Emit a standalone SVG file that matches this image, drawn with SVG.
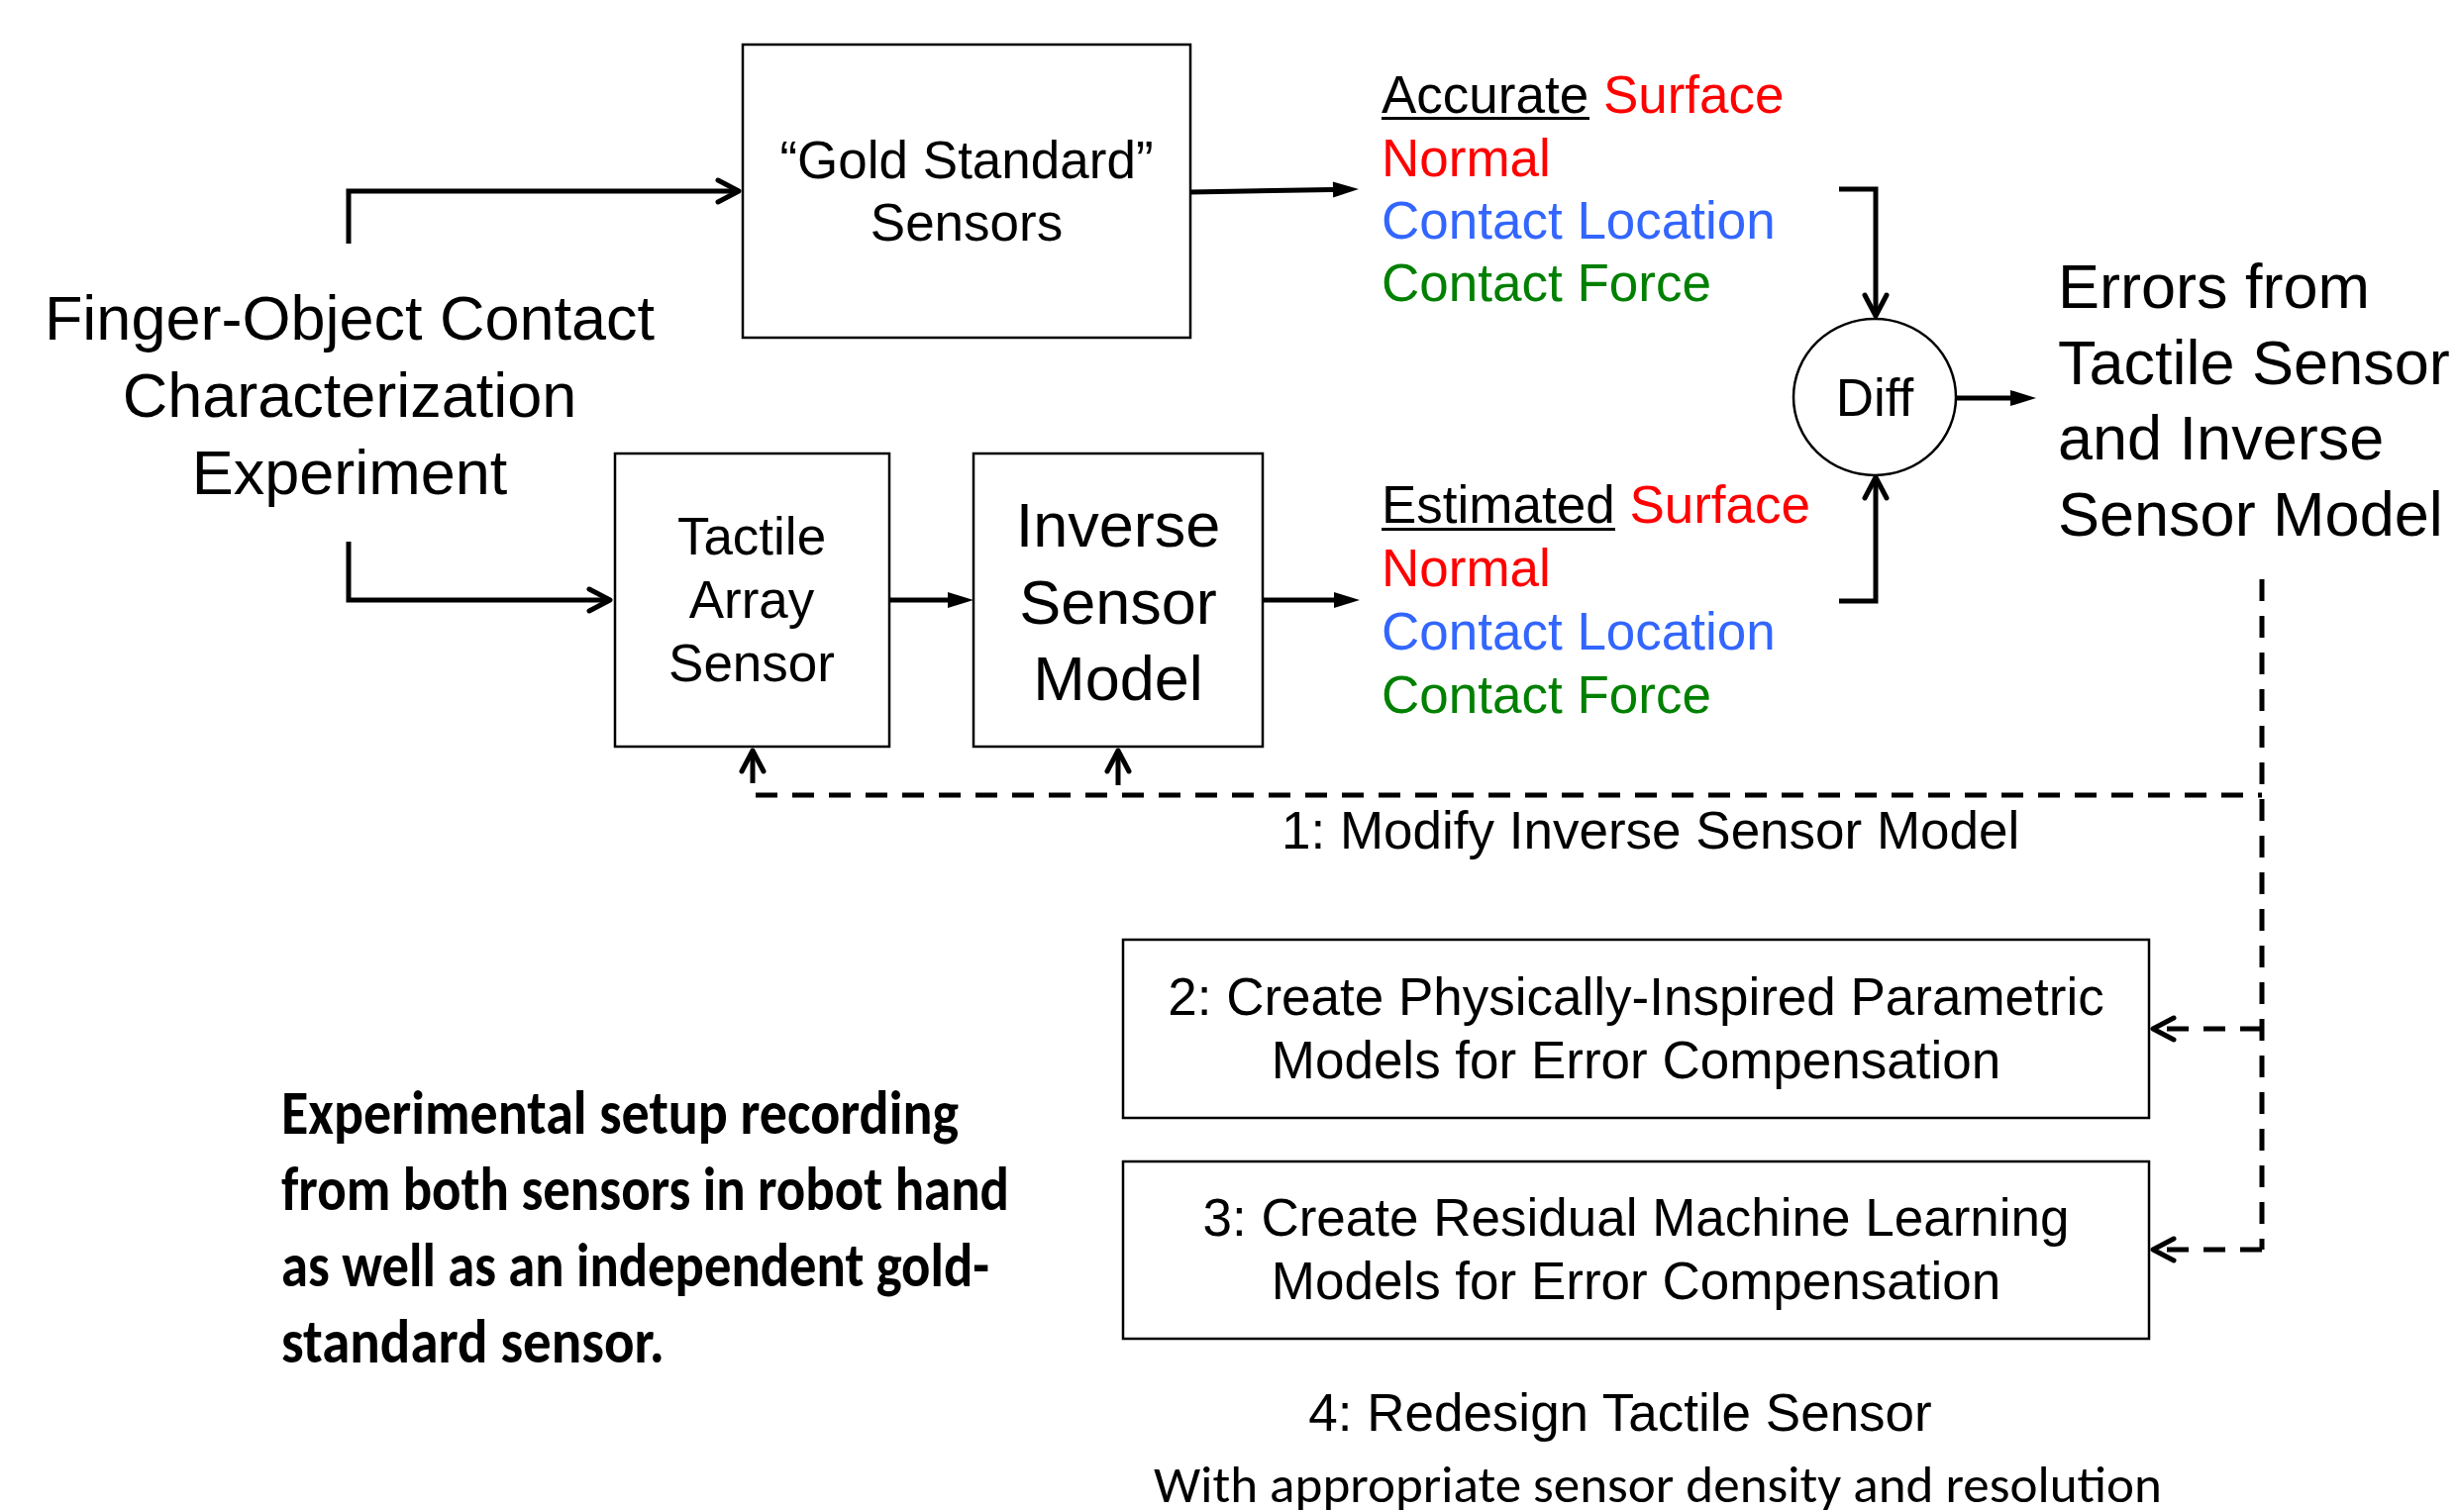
<svg xmlns="http://www.w3.org/2000/svg" width="2483" height="1527" viewBox="0 0 2483 1527">
<style>
.box{fill:#fff;stroke:#000;stroke-width:2.5}
.t{font-family:"Liberation Sans",Arial,sans-serif;fill:#000}
.s53{font-size:53px}
.s63{font-size:63px}
.red{fill:#FF0000}
.blue{fill:#3366FF}
.green{fill:#008000}
.ln{fill:none;stroke:#000;stroke-width:5}
.dash{fill:none;stroke:#000;stroke-width:5;stroke-dasharray:22 15}
.cal{font-family:Carlito,Calibri,Lato,"Open Sans",sans-serif;fill:#000}
</style>
<defs>
<marker id="chev" markerUnits="userSpaceOnUse" markerWidth="40" markerHeight="40" refX="25" refY="20" orient="auto" overflow="visible">
<path d="M4,9 L25,20 L4,31" fill="none" stroke="#000" stroke-width="5" stroke-linecap="round" stroke-linejoin="round"/>
</marker>
<marker id="tri" markerUnits="userSpaceOnUse" markerWidth="30" markerHeight="20" refX="0" refY="10" orient="auto" overflow="visible">
<path d="M0,2 L26,10 L0,18 Z" fill="#000"/>
</marker>
</defs>
<rect width="2483" height="1527" fill="#fff"/>

<g id="connectors">
<path class="ln" d="M352,246 V193 H746" marker-end="url(#chev)"/>
<path class="ln" d="M352,547 V606 H616" marker-end="url(#chev)"/>
<path class="ln" d="M1202,194 L1346,191.5" marker-end="url(#tri)"/>
<path class="ln" d="M898,606 H957" marker-end="url(#tri)"/>
<path class="ln" d="M1275,606 H1347" marker-end="url(#tri)"/>
<path class="ln" d="M1857,191 H1894 V319" marker-end="url(#chev)"/>
<path class="ln" d="M1857,607 H1894 V482" marker-end="url(#chev)"/>
<path class="ln" d="M1975,402 H2030" marker-end="url(#tri)"/>
<path class="dash" d="M2284,585 V1262"/>
<path class="dash" d="M763,803 H2284"/>
<path class="dash" d="M2284,1039 H2174" marker-end="url(#chev)"/>
<path class="dash" d="M2284,1262 H2174" marker-end="url(#chev)"/>
<path class="ln" d="M760,791 V758" marker-end="url(#chev)"/>
<path class="ln" d="M1129,793 V758" marker-end="url(#chev)"/>
</g>

<g id="experiment">
<text class="t s63" text-anchor="middle" x="353" y="343">Finger-Object Contact</text>
<text class="t s63" text-anchor="middle" x="353" y="421">Characterization</text>
<text class="t s63" text-anchor="middle" x="353" y="499">Experiment</text>
</g>

<g id="gold">
<rect class="box" x="750" y="45" width="452" height="296"/>
<text class="t s53" text-anchor="middle" x="976" y="180">“Gold Standard”</text>
<text class="t s53" text-anchor="middle" x="976" y="243">Sensors</text>
</g>

<g id="tactile">
<rect class="box" x="621" y="458" width="277" height="296"/>
<text class="t s53" text-anchor="middle" x="759" y="560">Tactile</text>
<text class="t s53" text-anchor="middle" x="759" y="624">Array</text>
<text class="t s53" text-anchor="middle" x="759" y="688">Sensor</text>
</g>

<g id="inverse">
<rect class="box" x="983" y="458" width="292" height="296"/>
<text class="t s63" text-anchor="middle" x="1129" y="552">Inverse</text>
<text class="t s63" text-anchor="middle" x="1129" y="630">Sensor</text>
<text class="t s63" text-anchor="middle" x="1129" y="707">Model</text>
</g>

<g id="accurate">
<text class="t s53" x="1395" y="114">Accurate <tspan class="red">Surface</tspan></text>
<rect x="1395" y="118" width="210" height="3" fill="#000"/>
<text class="t s53 red" x="1395" y="178">Normal</text>
<text class="t s53 blue" x="1395" y="241">Contact Location</text>
<text class="t s53 green" x="1395" y="304">Contact Force</text>
</g>

<g id="estimated">
<text class="t s53" x="1395" y="528">Estimated <tspan class="red">Surface</tspan></text>
<rect x="1395" y="533" width="236" height="3" fill="#000"/>
<text class="t s53 red" x="1395" y="592">Normal</text>
<text class="t s53 blue" x="1395" y="656">Contact Location</text>
<text class="t s53 green" x="1395" y="720">Contact Force</text>
</g>

<g id="diff">
<ellipse cx="1893" cy="401" rx="82" ry="79" fill="#fff" stroke="#000" stroke-width="2.5"/>
<text class="t s53" text-anchor="middle" x="1893" y="420">Diff</text>
</g>

<g id="errors">
<text class="t s63" x="2078" y="311">Errors from</text>
<text class="t s63" x="2078" y="388">Tactile Sensor</text>
<text class="t s63" x="2078" y="464">and Inverse</text>
<text class="t s63" x="2078" y="541">Sensor Model</text>
</g>

<g id="step1">
<text class="t s53" x="1294" y="857">1: Modify Inverse Sensor Model</text>
</g>

<g id="step2">
<rect class="box" x="1134" y="949" width="1036" height="180"/>
<text class="t s53" text-anchor="middle" x="1652" y="1025">2: Create Physically-Inspired Parametric</text>
<text class="t s53" text-anchor="middle" x="1652" y="1089">Models for Error Compensation</text>
</g>

<g id="step3">
<rect class="box" x="1134" y="1173" width="1036" height="179"/>
<text class="t s53" text-anchor="middle" x="1652" y="1248">3: Create Residual Machine Learning</text>
<text class="t s53" text-anchor="middle" x="1652" y="1312">Models for Error Compensation</text>
</g>

<g id="step4">
<text class="t s53" text-anchor="middle" x="1636" y="1445">4: Redesign Tactile Sensor</text>
<text class="cal" font-size="52" x="1165" y="1517" textLength="1018" lengthAdjust="spacingAndGlyphs">With appropriate sensor density and resolution</text>
</g>

<g id="note">
<text class="cal" font-size="62" font-weight="bold" x="284" y="1145" textLength="684" lengthAdjust="spacingAndGlyphs">Experimental setup recording</text>
<text class="cal" font-size="62" font-weight="bold" x="284" y="1222" textLength="735" lengthAdjust="spacingAndGlyphs">from both sensors in robot hand</text>
<text class="cal" font-size="62" font-weight="bold" x="284" y="1299" textLength="715" lengthAdjust="spacingAndGlyphs">as well as an independent gold-</text>
<text class="cal" font-size="62" font-weight="bold" x="284" y="1376" textLength="387" lengthAdjust="spacingAndGlyphs">standard sensor.</text>
</g>
</svg>
